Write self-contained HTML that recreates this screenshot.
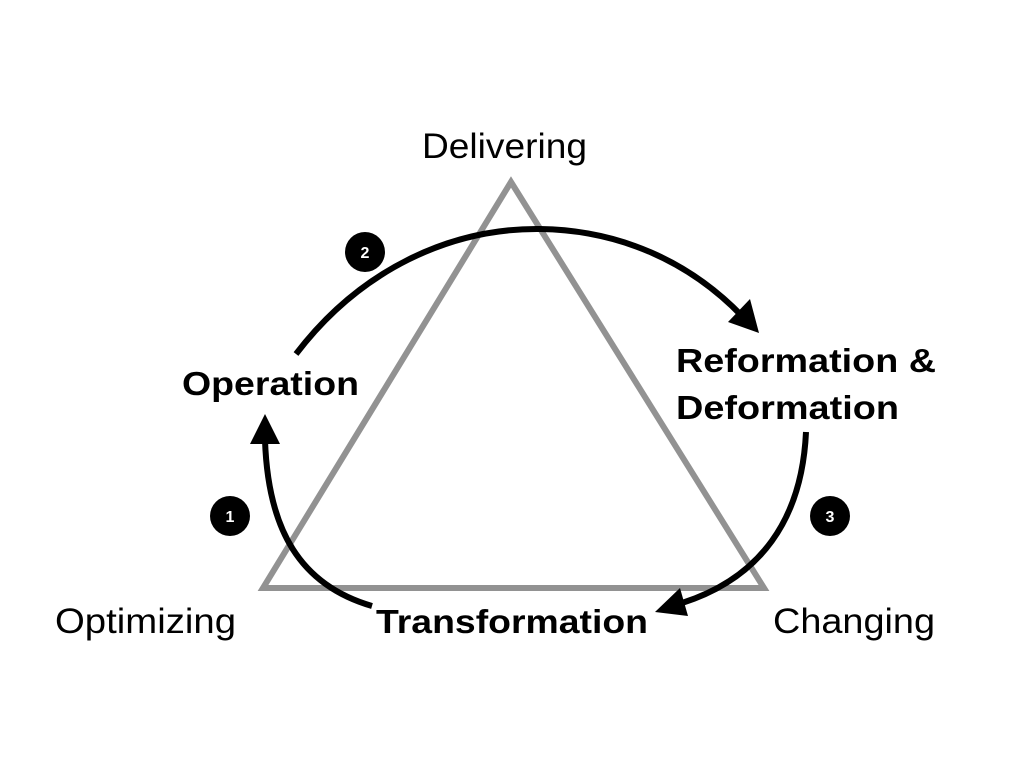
<!DOCTYPE html>
<html><head><meta charset="utf-8"><style>
html,body{margin:0;padding:0;background:#fff;}
svg{display:block;}
</style></head><body>
<svg width="1024" height="768" viewBox="0 0 1024 768" xmlns="http://www.w3.org/2000/svg" font-family="Liberation Sans, Arial, sans-serif">
<polygon points="511,182 263,588 764,588" fill="none" stroke="#929292" stroke-width="6" stroke-linejoin="miter"/>
<g fill="none" stroke="#000" stroke-width="6" stroke-linecap="butt">
<path d="M372,606 C300,585 268,530 265,440"/>
<path d="M296,354 C360,270 450,228 540,229 C620,230 690,262 742,316"/>
<path d="M806,432 C802,520 760,578 682,603"/>
</g>
<g fill="#000">
<polygon points="265,414 250,444 280,444"/>
<polygon points="759,333 728,322 750,299"/>
<polygon points="655,612 680,588 688,616"/>
</g>
<g fill="#000"><circle cx="365" cy="252" r="20"/><circle cx="230" cy="516" r="20"/><circle cx="830" cy="516" r="20"/></g>
<g fill="#fff" font-weight="bold" font-size="16" text-anchor="middle">
<text x="365" y="258">2</text><text x="230" y="522">1</text><text x="830" y="522">3</text>
</g>
<g fill="#000" font-size="35">
<text x="422" y="158" textLength="165" lengthAdjust="spacingAndGlyphs">Delivering</text>
<text x="55" y="633" textLength="181" lengthAdjust="spacingAndGlyphs">Optimizing</text>
<text x="773" y="633" textLength="162" lengthAdjust="spacingAndGlyphs">Changing</text>
</g>
<g fill="#000" font-size="33" font-weight="bold">
<text x="182" y="395" textLength="177" lengthAdjust="spacingAndGlyphs">Operation</text>
<text x="676" y="372" textLength="260" lengthAdjust="spacingAndGlyphs">Reformation &amp;</text>
<text x="676" y="419" textLength="223" lengthAdjust="spacingAndGlyphs">Deformation</text>
<text x="376" y="633" textLength="272" lengthAdjust="spacingAndGlyphs">Transformation</text>
</g>
</svg>
</body></html>
